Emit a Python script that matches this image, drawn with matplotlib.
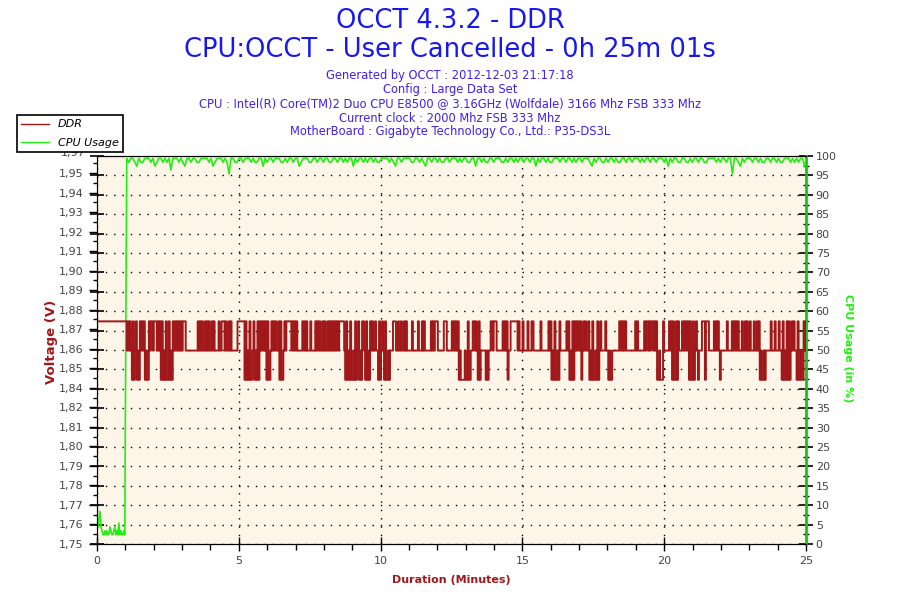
import numpy as np
import matplotlib
matplotlib.use("Agg")
import matplotlib.pyplot as plt
from matplotlib.lines import Line2D
from matplotlib.transforms import blended_transform_factory

# ---------------- data ----------------
duration_min = 25.02
x_ticks = [0, 5, 10, 15, 20, 25]
cpu_ticks = list(range(0, 101, 5))

volt_base = 1.75
volt_step = 0.0107
volt_tick_labels = ["1,75", "1,76", "1,77", "1,78", "1,79", "1,80", "1,81", "1,82",
                    "1,84", "1,85", "1,86", "1,87", "1,88", "1,89", "1,90", "1,91",
                    "1,92", "1,93", "1,94", "1,95"]
volt_top_label = "1,97"

# DDR voltage levels (V) and the level sequence (one code per sample)
ddr_levels = {"H": 1.872, "M": 1.856, "L": 1.840}
ddr_codes = [
    "HHHHHHHHHHHHHHHHHHHHHHHHHHHHHH",
    "MH", "MHM", "LHLMHLML", "HMHMH", "LMLL", "HMHHM", "HHH", "MHMH",
    "LHLMLHLLHLML", "HMHMHMHMHMH", "HH", "MMMMMMMMMMMM", "HMHMHMMHMHMHMMHMHM",
    "MMMHMM", "HHH", "MHMM", "HMHM", "MMMMM", "HHHHHHH", "LHLMLHLLMHLMLHL",
    "HMHMHMH", "LHLLM", "HMHMHMMH",
    "LHLLM", "HMH", "HHHHMHMHMH", "MMMMM", "HMHMH", "MMMHMMMM", "HMHMH",
    "MMHMHMM", "HMHMHMH", "MHMHM", "HHHHHM", "LHLMLHLLMLH", "LMHLMLH",
    "HMLHLML", "HMHMMHMM", "LHLMHMLHLLML", "MMM", "HHHM",
    "MHMMHMMHMHMMMMMHMMMMM", "HMMMHMH", "MMMMMM", "HMHMH", "HHM", "MMMMM",
    "HHH", "MMMMM", "HMHMHMH", "LMLLL",
    "LMLLHLL", "MMH", "HMHMLH", "LMM", "MMMLM", "LMM", "HHMHHHM", "MMMMM",
    "HMHMHLM", "MH", "HHHHHH", "MHMMMHM", "MMM", "HMMMHHM", "MMMMMMHMMMMMMM",
    "HMH", "LMLHLLML", "HMMMMMM", "HMHLMLH", "LHMHM", "HMHLMHMHMM",
    "HLMLHLLMLHL", "MHMMMMHMM", "LMLL", "MMMMMMM", "HMHMHMHM", "MMMMMMMM",
    "HMHM", "MMMMM", "HMH",
    "HMHMHHMHMH", "LLMLLL", "HMM", "MMM", "HMHLHLLHLH", "MMMHM", "HMHMH",
    "LHLLHLM", "HML", "MMM", "HHHLHHH", "MMMMM", "HMHMH", "MLMM", "MMMM",
    "HMMMM", "HMHMHMHM", "MMHMMHM", "HMMHMMMHMM", "HMHLMLLM", "LMMMMM",
    "HMMMHM", "MMHMM", "LHLMLHLHLM", "HMHMM", "LHLLMLL", "HMHM",
]

# CPU usage (%): idle phase, ramp sample, then load phase as deficit from 100 %
cpu_idle = [6, 5, 7, 9, 5, 4, 3, 3, 4, 3, 4, 3, 3, 5, 4, 3, 3, 4, 5, 3, 4, 3, 6, 3, 4, 3, 3, 4, 3]
cpu_idle_end = 0.98
cpu_ramp = 55
cpu_load_start = 1.05
cpu_load_deficit = [
    "01001201100010210010", "10300010120010011000", "01021000101400110010",
    "00101100201001000110", "10010021000110010010", "01100100101002010010",
    "10010110000101200100", "00110010120010010110", "01000101001100200101",
    "10010001101001010010", "01002010010110001001", "00101001000120100110",
    "10010110010010001010", "01001000102010011001", "10100100110000101001",
    "00400120100010010110", "01001011000101010020",
]

# ---------------- series assembly ----------------
ddr_seq = "".join(ddr_codes)
ddr_vals = np.array([ddr_levels[c] for c in ddr_seq])
ddr_t = np.linspace(0, duration_min, len(ddr_vals))

load_str = "".join(cpu_load_deficit)
cpu_load = 100 - np.array([int(c) for c in load_str])
t_idle = np.linspace(0, cpu_idle_end, len(cpu_idle))
t_load = np.linspace(cpu_load_start, duration_min, len(cpu_load))
cpu_t = np.concatenate([t_idle, [(cpu_idle_end + cpu_load_start) / 2], t_load])
cpu_vals = np.concatenate([cpu_idle, [cpu_ramp], cpu_load])

# ---------------- style ----------------
DDR_COL = "#a0181a"
CPU_COL = "#22ee11"
TITLE_COL = "#1818ee"
SUB_COL = "#4020ee"
TICK_COL = "#444444"
BG = "#fdf6e8"

plt.rcParams['font.family'] = ['DejaVu Sans']

fig = plt.figure(figsize=(9, 6), dpi=100)
fig.patch.set_facecolor("white")

rect = [97 / 900, 1 - 544 / 600, (806 - 97) / 900, (544 - 156) / 600]
axC = fig.add_axes(rect)
axC.set_facecolor(BG)
axV = axC.twinx()

# CPU axis (right)
axC.set_xlim(0, 25)
axC.set_ylim(0, 100)
axC.yaxis.tick_right()
axC.set_yticks(cpu_ticks)
axC.set_yticks(np.arange(2.5, 100, 5), minor=True)
axC.set_xticks(x_ticks)
axC.set_xticks(np.arange(0, 26, 1), minor=True)
axC.tick_params(axis='y', which='major', left=True, right=True, labelleft=False,
                labelright=True, direction='inout', length=10, width=1.2,
                labelsize=8, labelcolor=TICK_COL, pad=2)
axC.tick_params(axis='y', which='minor', left=False, right=True, direction='inout',
                length=5, width=1)
axC.tick_params(axis='x', which='major', direction='inout', length=10, width=1,
                labelsize=8, labelcolor=TICK_COL, pad=4)
axC.tick_params(axis='x', which='minor', direction='out', length=4, width=1)
axC.grid(True, which='major', color='black', linestyle=(0, (1, 5)), linewidth=1)
axC.set_axisbelow(True)
for s in ['top', 'bottom', 'left']:
    axC.spines[s].set_color('black')
axC.spines['right'].set_color('#11c811')
axC.spines['right'].set_linewidth(2)

axC.plot(cpu_t, cpu_vals - 0.6, color=CPU_COL, linewidth=1.2, zorder=3)

# Voltage axis (left)
vtop = volt_base + 19.87 * volt_step
axV.set_ylim(volt_base, vtop)
axV.yaxis.tick_left()
axV.set_yticks(volt_base + np.arange(len(volt_tick_labels)) * volt_step)
axV.set_yticklabels(volt_tick_labels)
axV.set_yticks(volt_base + (np.arange(len(volt_tick_labels)) + 0.5) * volt_step, minor=True)
axV.tick_params(axis='y', which='major', direction='out', length=6, width=1,
                labelsize=8, labelcolor=TICK_COL, pad=4)
axV.tick_params(axis='y', which='minor', direction='out', length=3, width=1)
axV.spines['right'].set_visible(False)
axV.spines['left'].set_color('black')
trans = blended_transform_factory(axV.transAxes, axV.transData)
axV.text(-0.0155, volt_base + 20 * volt_step, volt_top_label, transform=trans,
         ha='right', va='center', fontsize=8, color=TICK_COL, clip_on=False)

axV.plot(ddr_t, ddr_vals, color=DDR_COL, linewidth=1.4, drawstyle='steps-post', zorder=2)
axC.set_zorder(1)
axV.set_zorder(2)
axV.patch.set_visible(False)

# Titles
fig.text(0.5, 1 - 21 / 600, "OCCT 4.3.2 - DDR", ha='center', va='center',
         fontsize=18.5, color=TITLE_COL)
fig.text(0.5, 1 - 50 / 600, "CPU:OCCT - User Cancelled - 0h 25m 01s", ha='center',
         va='center', fontsize=18.5, color=TITLE_COL)
subs = ["Generated by OCCT : 2012-12-03 21:17:18",
        "Config : Large Data Set",
        "CPU : Intel(R) Core(TM)2 Duo CPU E8500 @ 3.16GHz (Wolfdale) 3166 Mhz FSB 333 Mhz",
        "Current clock : 2000 Mhz FSB 333 Mhz",
        "MotherBoard : Gigabyte Technology Co., Ltd.: P35-DS3L"]
for i, s in enumerate(subs):
    fig.text(0.5, 1 - (76 + 14 * i) / 600, s, ha='center', va='center',
             fontsize=8.3, color=SUB_COL)

# Axis labels
fig.text(52 / 900, 1 - 342 / 600, "Voltage (V)", rotation=90, ha='center', va='center',
         fontsize=9.5, fontweight='bold', color=DDR_COL)
fig.text(848 / 900, 1 - 348 / 600, "CPU Usage (in %)", rotation=270, ha='center',
         va='center', fontsize=8, fontweight='bold', color=CPU_COL)
fig.text(451 / 900, 1 - 580 / 600, "Duration (Minutes)", ha='center', va='center',
         fontsize=8, fontweight='bold', color=DDR_COL)

# Legend
handles = [Line2D([], [], color=DDR_COL, linewidth=1), Line2D([], [], color=CPU_COL, linewidth=1)]
leg = fig.legend(handles, ["DDR", "CPU Usage"], loc='upper left',
                 bbox_to_anchor=(17 / 900, 1 - 115 / 600), borderaxespad=0,
                 frameon=True, fancybox=False, edgecolor='black', framealpha=1,
                 prop={'style': 'italic', 'size': 8}, handlelength=2.5,
                 labelspacing=0.75, borderpad=0.4, handletextpad=0.8)
leg.get_frame().set_linewidth(1.2)
leg.set_zorder(10)

fig.savefig("out.png", dpi=100, facecolor="white")
